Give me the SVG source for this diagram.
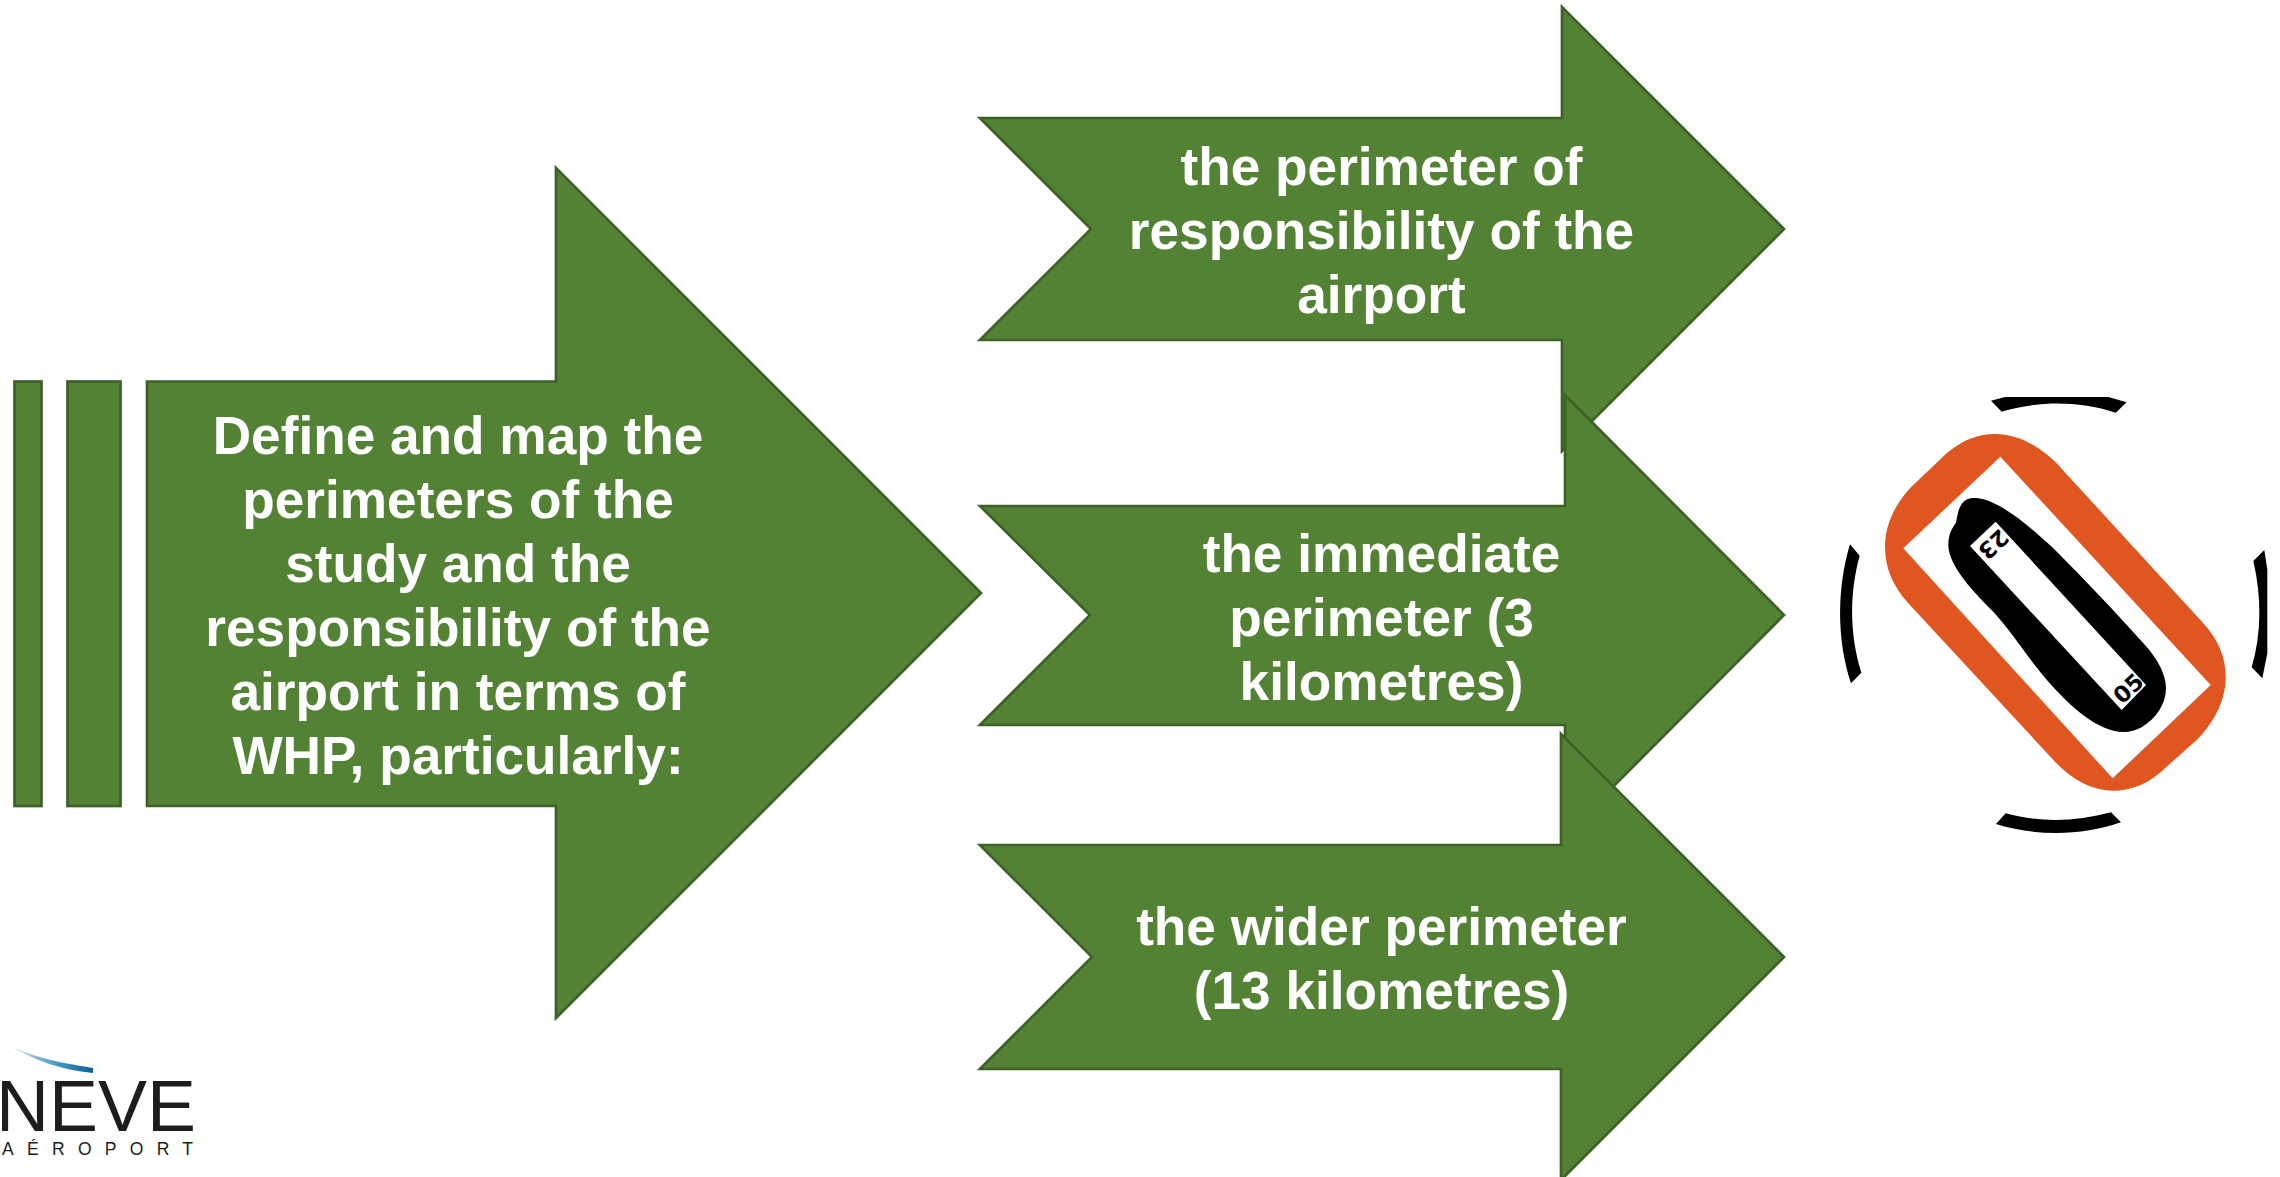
<svg xmlns="http://www.w3.org/2000/svg" width="2280" height="1177" viewBox="0 0 2280 1177">
<defs>
<style>
.arrow{fill:#548235;stroke:#3e6128;stroke-width:2.700}
.lbl{font-family:"Liberation Sans",Arial,sans-serif;font-weight:700;font-size:53.200px;fill:#fff;text-anchor:middle}
.logo{font-family:"Liberation Sans",Arial,sans-serif;fill:#1d1d1b}
.rwy{font-family:"DejaVu Sans",sans-serif;font-weight:700;font-size:68px;fill:#000;text-anchor:middle}
</style>
<linearGradient id="sw" x1="0" x2="1" y1="0" y2="0"><stop offset="0" stop-color="#cfe3ee"/><stop offset=".6" stop-color="#3f95c4"/><stop offset="1" stop-color="#0f5f92"/></linearGradient>
</defs>
<rect width="2280" height="1177" fill="#fff"/>
<g id="main-arrow">
<rect class="arrow" x="14.500" y="381.500" width="27" height="424.500"/>
<rect class="arrow" x="67.500" y="381.500" width="53" height="424.500"/>
<path class="arrow" d="M147 381.500H556V168L981 593L556 1018V806H147Z"/>
<text class="lbl" x="458" y="454">Define and map the</text>
<text class="lbl" x="458" y="518">perimeters of the</text>
<text class="lbl" x="458" y="582">study and the</text>
<text class="lbl" x="458" y="646">responsibility of the</text>
<text class="lbl" x="458" y="710">airport in terms of</text>
<text class="lbl" x="458" y="774">WHP, particularly:</text>
</g>
<g id="arrow-1">
<path class="arrow" d="M980 118H1562V7L1784 229L1562 451V340H980L1091 229Z"/>
<text class="lbl" x="1381.500" y="185">the perimeter of</text>
<text class="lbl" x="1381.500" y="249">responsibility of the</text>
<text class="lbl" x="1381.500" y="313">airport</text>
</g>
<g id="arrow-2">
<path class="arrow" d="M980 506H1565V395L1784 615L1565 835V725H980L1090 615Z"/>
<text class="lbl" x="1381.500" y="572">the immediate</text>
<text class="lbl" x="1381.500" y="636">perimeter (3</text>
<text class="lbl" x="1381.500" y="700">kilometres)</text>
</g>
<g id="arrow-3">
<path class="arrow" d="M980 845H1561V734L1784 957L1561 1180V1069H980L1092 957Z"/>
<text class="lbl" x="1381.500" y="945">the wider perimeter</text>
<text class="lbl" x="1381.500" y="1009">(13 kilometres)</text>
</g>
<g id="runway-icon" transform="translate(1820 370) scale(.33333)">
<path fill="#e05620" d="M380 250C430 208 475 192 525 192C590 192 655 225 710 280L1150 760C1195 810 1217 860 1217 920C1217 1000 1175 1065 1130 1110L1040 1190C990 1240 935 1262 880 1262C815 1262 755 1230 700 1170L265 700C220 650 195 595 195 530C195 450 240 380 290 335Z"/>
<path fill="#fff" d="M541 260L1172 945L878 1225L250 535Z"/>
<path fill="#000" d="M425 402C435 387 450 383 470 384C530 390 610 450 700 535C790 625 890 730 975 825C1015 870 1038 915 1038 955C1038 1000 1010 1045 965 1072C930 1092 890 1090 850 1072C780 1040 710 970 640 880C600 825 560 770 520 725C470 675 385 590 385 525C385 495 395 475 408 458C412 440 413 420 425 402Z"/>
<path fill="#fff" d="M527 455L978 945L905 1020L450 528Z"/>
<text class="rwy" transform="translate(520 523) rotate(137)" y="24">23</text>
<text class="rwy" transform="translate(925 955) rotate(-43)" y="24">05</text>
<path fill="#000" d="M513 92L555 81H865L920 97L887 128C775 92 655 92 545 125Z"/>
<path fill="#000" d="M528 1362C650 1400 785 1398 903 1357L873 1327C765 1356 660 1358 557 1330Z"/>
<path fill="#000" d="M90 523C50 655 50 810 93 940L124 908C88 790 88 670 119 557Z"/>
<path fill="#000" d="M1333 540L1300 573C1325 680 1325 790 1295 892L1327 925L1342 850V600Z"/>
</g>
<g id="logo">
<path fill="url(#sw)" d="M10 1046C40 1060 70 1064 93 1068L93 1073C60 1070 35 1060 10 1046Z"/>
<text class="logo" x="-4" y="1131" font-size="73" textLength="200" lengthAdjust="spacingAndGlyphs">NEVE</text>
<text class="logo" x="2" y="1155" font-size="17.500" textLength="191" lengthAdjust="spacing">AÉROPORT</text>
</g>
</svg>
